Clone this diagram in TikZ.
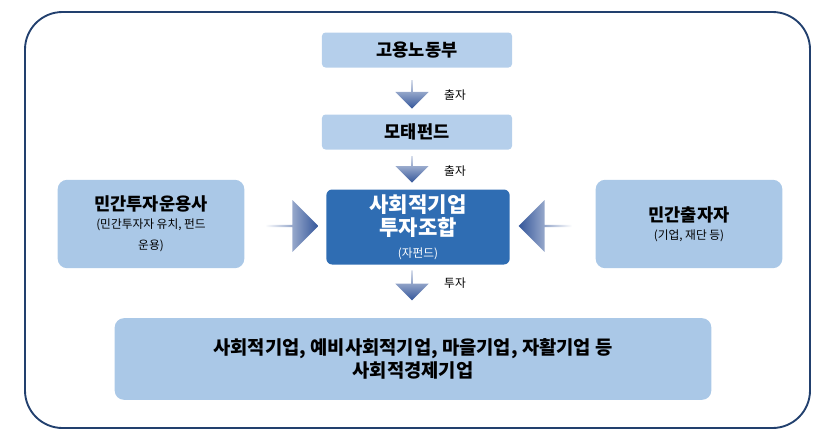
\documentclass[tikz,border=0pt]{standalone}
\usepackage{fontspec}
\setmainfont{Noto Sans CJK KR}
\usetikzlibrary{shapes.arrows}
\definecolor{frame}{HTML}{22406E}
\definecolor{boxlight}{HTML}{B5CFEB}
\definecolor{boxside}{HTML}{AAC8E7}
\definecolor{boxdark}{HTML}{2F6DB3}
\definecolor{arrowblue}{HTML}{34569A}
\newcommand{\subtxt}{\mdseries\fontsize{10}{12}\selectfont}
\begin{document}
\begin{tikzpicture}[x=0.03cm,y=-0.03cm,
  box/.style={rectangle,rounded corners=3pt,fill=boxlight,align=center,font=\bfseries\fontsize{15}{18}\selectfont},
  flow/.style={single arrow,minimum width=1.0cm,single arrow head extend=4pt,single arrow head indent=0pt,inner sep=0pt},
  down/.style={flow,shape border rotate=270,top color=white!80!arrowblue,bottom color=arrowblue},
  lbl/.style={font=\fontsize{10}{12}\selectfont}]
  \useasboundingbox (0,0) rectangle (832,443);
  \draw[frame,line width=1.6pt,rounded corners=32pt] (25,12) rectangle (810,428);
  \node[box,minimum width=5.7cm,minimum height=1.05cm] (labor) at (417,50) {고용노동부};
  \node[box,minimum width=5.7cm,minimum height=1.05cm] (mother) at (417,132) {모태펀드};
  \node[box,fill=boxdark,text=white,rounded corners=5pt,minimum width=5.5cm,minimum height=2.25cm,font=\bfseries\fontsize{18}{20}\selectfont] (fund) at (418,227) {사회적기업\\투자조합\\[-2pt]\subtxt(자펀드)};
  \node[box,fill=boxside,rounded corners=8pt,minimum width=5.6cm,minimum height=2.65cm] (manager) at (151,224) {민간투자운용사\\[-3pt]\subtxt(민간투자자 유치, 펀드\\\subtxt 운용)};
  \node[box,fill=boxside,rounded corners=8pt,minimum width=5.6cm,minimum height=2.65cm] (investor) at (689,224) {민간출자자\\[-3pt]\subtxt(기업, 재단 등)};
  \node[box,fill=boxside,rounded corners=8pt,minimum width=17.9cm,minimum height=2.45cm,font=\bfseries\fontsize{16}{20}\selectfont] (target) at (413,359) {사회적기업, 예비사회적기업, 마을기업, 자활기업 등\\사회적경제기업};
  % arrows
  \node[down,minimum height=0.85cm] (a1) at (412,94) {};
  \node[lbl] (a1l) at (455,95) {출자};
  \node[down,minimum height=0.8cm] (a2) at (412,169) {};
  \node[lbl] (a2l) at (455,171) {출자};
  \node[down,minimum height=0.9cm] (a3) at (412,285) {};
  \node[lbl] (a3l) at (455,283) {투자};
  \node[flow,minimum width=1.55cm,minimum height=1.6cm,left color=white,right color=arrowblue] (a4) at (291,226) {};
  \node[flow,shape border rotate=180,minimum width=1.55cm,minimum height=1.6cm,left color=arrowblue,right color=white] (a5) at (546,226) {};
\end{tikzpicture}
\end{document}
